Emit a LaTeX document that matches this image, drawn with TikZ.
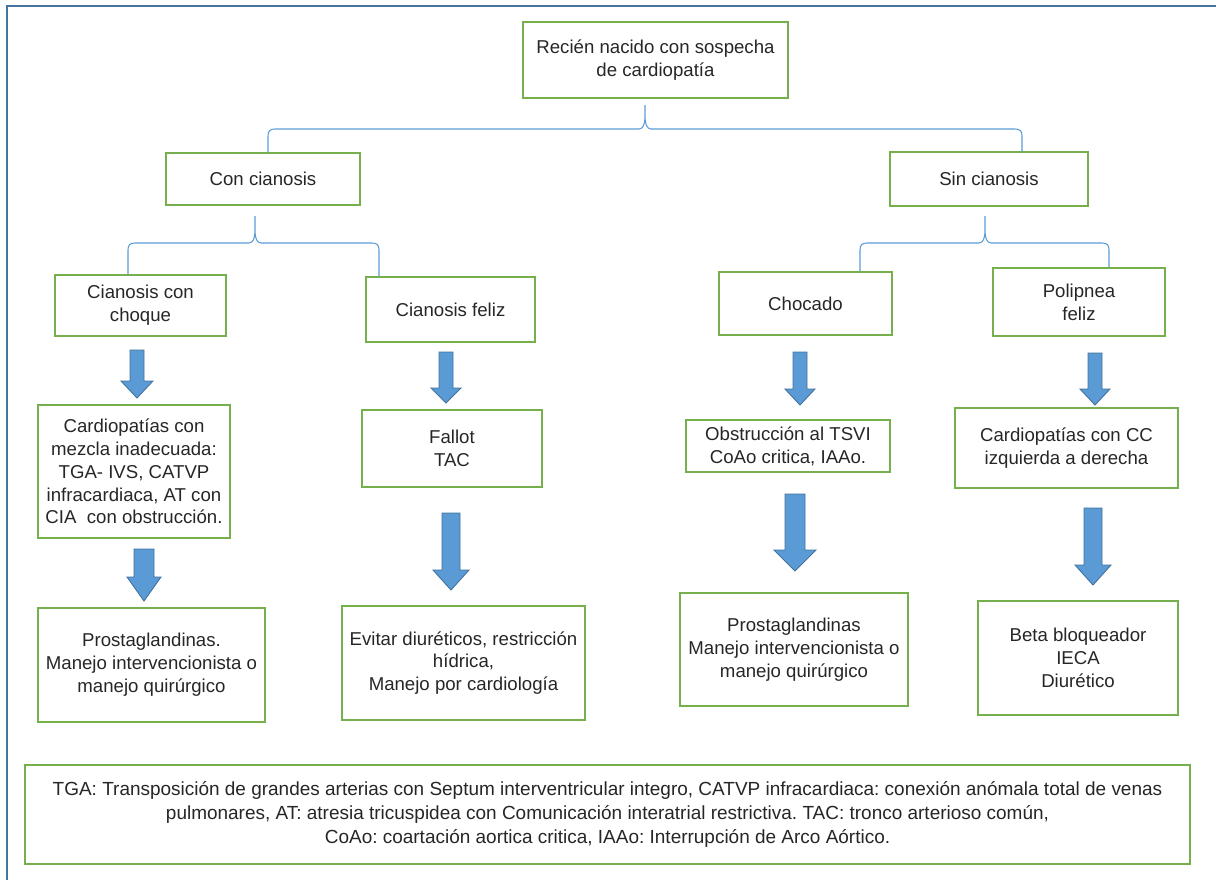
\documentclass[tikz,border=0pt]{standalone}
\usepackage{fontspec}
\setmainfont{Liberation Sans}
\usetikzlibrary{positioning}
\frenchspacing
\definecolor{cajaverde}{RGB}{118,176,76}
\definecolor{llaveazul}{RGB}{91,155,213}
\definecolor{flechaazul}{RGB}{91,155,213}
\definecolor{flechaborde}{RGB}{65,113,156}
\definecolor{marcoazul}{RGB}{74,116,160}
\definecolor{texto}{RGB}{38,38,38}
% llave: xl, xm, xr, ybar, ytip, yl, yr
\newcommand{\llave}[7]{%
  \draw[llave] (#1,#6) -- (#1,#4+7) .. controls (#1,#4+2) and (#1+2,#4) .. (#1+7,#4)
    -- (#2-6,#4) .. controls (#2-2,#4) and (#2,#4-5) .. (#2,#4-12) -- (#2,#5)
    (#2,#4-12) .. controls (#2,#4-5) and (#2+2,#4) .. (#2+6,#4)
    -- (#3-7,#4) .. controls (#3-2,#4) and (#3,#4+2) .. (#3,#4+7) -- (#3,#7);}

\begin{document}
\begin{tikzpicture}[
  x=0.02cm, y=-0.02cm,
  font=\fontsize{10.6}{13}\selectfont,
  caja/.style={draw=cajaverde,line width=1pt,text=texto,align=center,inner sep=2pt},
  llave/.style={draw=llaveazul,line width=0.6pt},
  flecha/.style={fill=flechaazul,draw=flechaborde,line width=0.5pt,line join=miter}
]
  \useasboundingbox (0,0) rectangle (1216,880);
  \draw[marcoazul,line width=1.2pt] (7,880) -- (7,6) -- (1216,6);

  % nivel 1 y 2
  \node[caja,minimum width=5.30cm,minimum height=1.52cm] (raiz) at (655.5,60)
    {Recién nacido con sospecha\\de cardiopatía};
  \node[caja,minimum width=3.88cm,minimum height=1.04cm] (con) at (263,179) {Con cianosis};
  \node[caja,minimum width=3.96cm,minimum height=1.08cm] (sin) at (989,179) {Sin cianosis};

  % nivel 3
  \node[caja,minimum width=3.42cm,minimum height=1.22cm] (choque) at (140.5,305.5) {Cianosis con\\choque};
  \node[caja,minimum width=3.38cm,minimum height=1.30cm] (feliz) at (450.5,309.5) {Cianosis feliz};
  \node[caja,minimum width=3.46cm,minimum height=1.26cm] (chocado) at (805.5,303.5) {Chocado};
  \node[caja,minimum width=3.44cm,minimum height=1.36cm] (polipnea) at (1079,302) {Polipnea\\feliz};

  % diagnosticos
  \node[caja,minimum width=3.84cm,minimum height=2.66cm] (mezcla) at (134,471.5)
    {Cardiopatías con\\mezcla inadecuada:\\TGA- IVS, CATVP\\infracardiaca, AT con\\CIA\ \ con obstrucción.};
  \node[caja,minimum width=3.60cm,minimum height=1.54cm] (fallot) at (452,448.5) {Fallot\\TAC};
  \node[caja,minimum width=4.08cm,minimum height=1.04cm] (tsvi) at (788,446)
    {Obstrucción al TSVI\\CoAo critica, IAAo.};
  \node[caja,minimum width=4.46cm,minimum height=1.60cm] (izqder) at (1066.5,448)
    {Cardiopatías con CC\\izquierda a derecha};

  % manejo
  \node[caja,minimum width=4.54cm,minimum height=2.28cm] (prosta1) at (151.5,665)
    {Prostaglandinas.\\Manejo intervencionista o\\manejo quirúrgico};
  \node[caja,minimum width=4.86cm,minimum height=2.28cm] (evitar) at (463.5,663)
    {Evitar diuréticos, restricción\\hídrica,\\Manejo por cardiología};
  \node[caja,minimum width=4.56cm,minimum height=2.26cm] (prosta2) at (794,649.5)
    {Prostaglandinas\\Manejo intervencionista o\\manejo quirúrgico};
  \node[caja,minimum width=4.00cm,minimum height=2.28cm] (beta) at (1078,658)
    {Beta bloqueador\\IECA\\Diurético};

  \node[caja,minimum width=23.30cm,minimum height=1.98cm,
    font=\fontsize{10.8}{13.6}\selectfont] (notas) at (607.5,814.5)
    {TGA: Transposición de grandes arterias con Septum interventricular integro, CATVP infracardiaca: conexión anómala total de venas\\
     pulmonares, AT: atresia tricuspidea con Comunicación interatrial restrictiva. TAC: tronco arterioso común,\\
     CoAo: coartación aortica critica, IAAo: Interrupción de Arco Aórtico.};

  % llaves
  \llave{268}{645}{1022}{129}{105}{152}{152}
  \llave{128}{255}{379}{243}{216}{274}{276}
  \llave{860}{985}{1109}{243}{216}{271}{267}

  % flechas de bloque: x, arriba, punta, medio tallo, media cabeza, largo cabeza
  \foreach \x/\ya/\yb/\s/\h/\l in {137/350/398/7/16/17, 144/549/601/10/17/24,
      446/352/403/7/15/15, 451/513/590/9/18/20,
      800/352/405/7/15/16, 795/494/571/10/21/21,
      1095/353/405/7/15/16, 1093/508/585/9/18/20} {
    \draw[flecha] (\x-\s,\ya) -- (\x+\s,\ya) -- (\x+\s,\yb-\l) -- (\x+\h,\yb-\l)
      -- (\x,\yb) -- (\x-\h,\yb-\l) -- (\x-\s,\yb-\l) -- cycle;
  }
\end{tikzpicture}
\end{document}
